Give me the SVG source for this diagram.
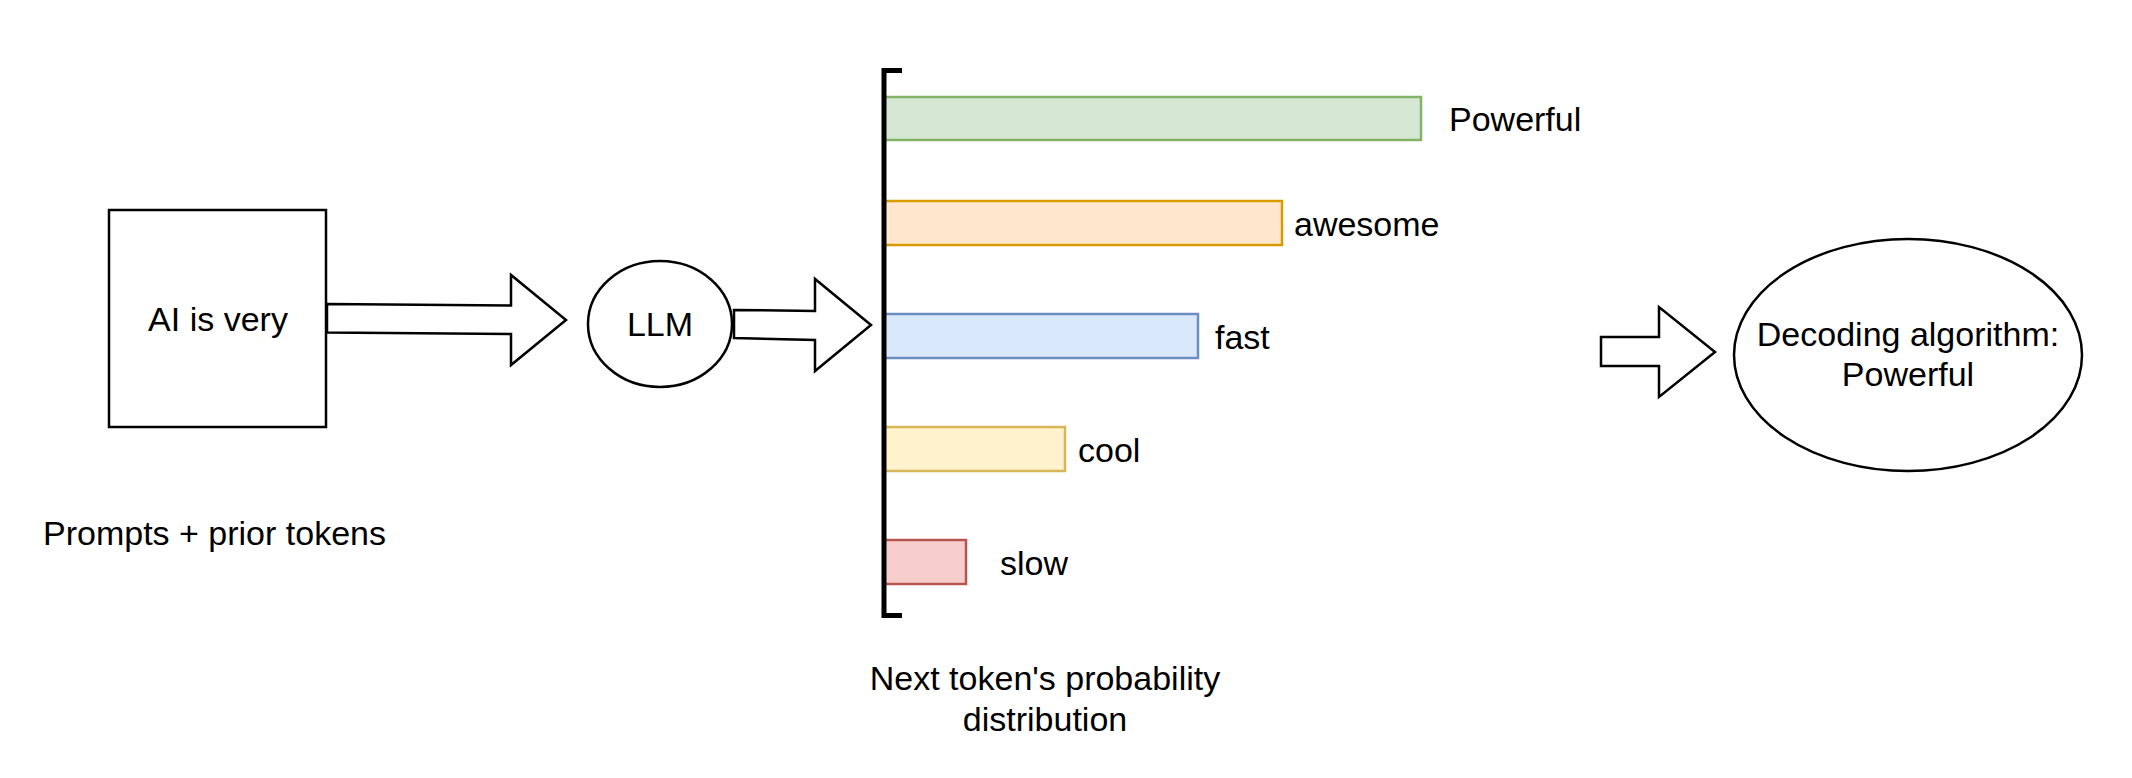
<svg xmlns="http://www.w3.org/2000/svg" width="2132" height="778" viewBox="0 0 2132 778">
<style>
  .t { font-family: "Liberation Sans", Arial, Helvetica, sans-serif; font-size: 34px; fill: #000; }
  .m { text-anchor: middle; }
  .shape { fill: #fff; stroke: #000; stroke-width: 2.5; }
  .blk { fill: #fff; stroke: #000; stroke-width: 2.5; stroke-linejoin: miter; }
  .bar { stroke-width: 2.5; }
</style>
<rect width="2132" height="778" fill="#fff"/>

<g id="prompt-box">
  <rect class="shape" x="109" y="210" width="217" height="217"/>
  <text class="t m" x="218" y="331">AI is very</text>
</g>
<g id="prompt-caption">
  <text class="t" x="43" y="545">Prompts + prior tokens</text>
</g>

<g id="llm">
  <ellipse class="shape" cx="660" cy="324" rx="72" ry="63"/>
  <text class="t m" x="660" y="336">LLM</text>
</g>

<g id="bar-powerful">
  <rect class="bar" x="884" y="97" width="537" height="43" fill="#d5e8d4" stroke="#82b366"/>
  <text class="t" x="1449" y="131">Powerful</text>
</g>
<g id="bar-awesome">
  <rect class="bar" x="884" y="201" width="398" height="44" fill="#ffe6cc" stroke="#d79b00"/>
  <text class="t" x="1294" y="236">awesome</text>
</g>
<g id="bar-fast">
  <rect class="bar" x="884" y="314" width="314" height="44" fill="#dae8fc" stroke="#6c8ebf"/>
  <text class="t" x="1215" y="349">fast</text>
</g>
<g id="bar-cool">
  <rect class="bar" x="884" y="427" width="181" height="44" fill="#fff2cc" stroke="#d6b656"/>
  <text class="t" x="1078" y="462">cool</text>
</g>
<g id="bar-slow">
  <rect class="bar" x="884" y="540" width="82" height="44" fill="#f8cecc" stroke="#b85450"/>
  <text class="t" x="1000" y="575">slow</text>
</g>
<g id="bracket">
  <path d="M 902 70.5 H 884 V 615.5 H 902" fill="none" stroke="#000" stroke-width="5"/>
</g>
<g id="distribution-caption">
  <text class="t m" x="1045" y="690">Next token's probability</text>
  <text class="t m" x="1045" y="731">distribution</text>
</g>

<g id="decoding">
  <ellipse class="shape" cx="1908" cy="355" rx="174" ry="116"/>
  <text class="t m" x="1908" y="346">Decoding algorithm:</text>
  <text class="t m" x="1908" y="386">Powerful</text>
</g>

<g id="connectors">
  <polygon class="blk" points="327,304 511,305.5 511,275 566,320 511,365 511,334 327,332.5"/>
  <polygon class="blk" points="734,310 815,311 815,279 871,325 815,371 815,340 734,338"/>
  <polygon class="blk" points="1601,337 1659,337 1659,307 1715,352 1659,397 1659,366 1601,366"/>
</g>
</svg>
